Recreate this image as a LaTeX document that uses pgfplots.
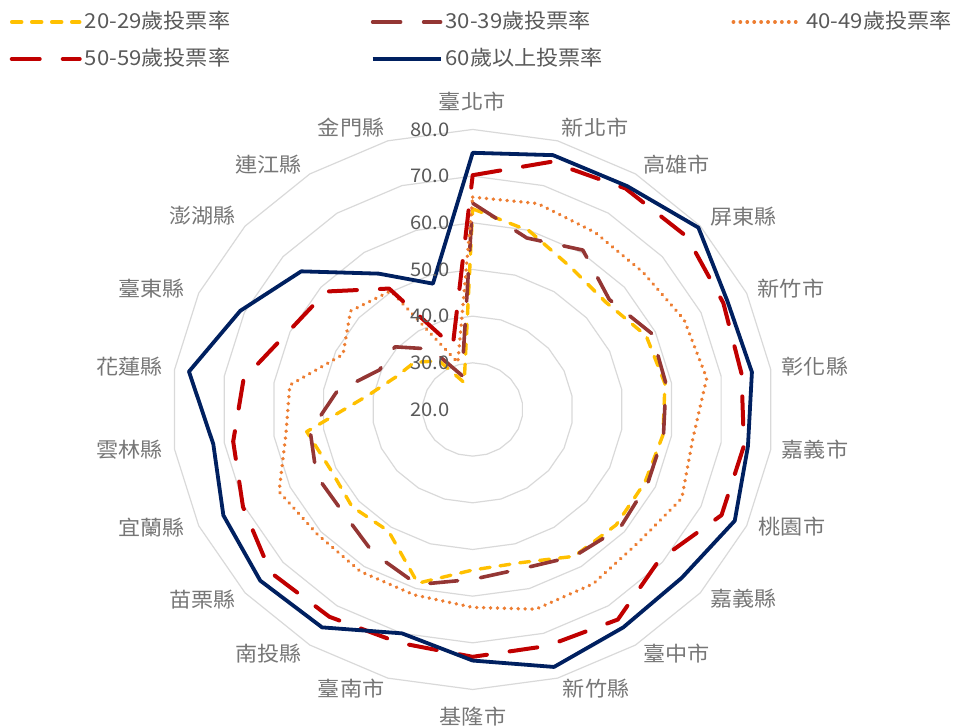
\documentclass[border=0pt]{standalone}
\usepackage{fontspec}
\setmainfont{Noto Sans CJK TC}[FakeStretch=1.075]
\usepackage{pgfplots}
\usepackage{pgfplotstable}
\pgfplotsset{compat=1.18}
\definecolor{c20}{HTML}{FFC000}
\definecolor{c30}{HTML}{943634}
\definecolor{c40}{HTML}{ED7D31}
\definecolor{c50}{HTML}{C00000}
\definecolor{c60}{HTML}{002060}
\definecolor{gridc}{HTML}{D9D9D9}
\definecolor{txt}{HTML}{595959}
\definecolor{cat}{HTML}{767676}

% k = category index (clockwise from top), v = turnout (%)
\pgfplotstableread{
k v
0 63.0
1 59.9
2 56.2
3 55.1
4 58.0
5 58.7
6 58.3
7 57.7
8 57.8
9 57.4
10 54.2
11 54.4
12 58.8
13 51.0
14 51.8
15 51.1
16 53.4
17 41.1
18 36.8
19 35.4
20 32.4
21 26.0
}\tA
\pgfplotstableread{
k v
0 64.2
1 58.3
2 60.6
3 56.0
4 59.2
5 58.9
6 58.4
7 58.3
8 58.8
9 57.4
10 55.5
11 56.4
12 59.1
13 56.6
14 54.0
15 54.2
16 52.7
17 47.3
18 40.4
19 40.5
20 35.4
21 27.6
}\tB
\pgfplotstableread{
k v
0 65.5
1 66.0
2 65.1
3 64.9
4 66.3
5 67.1
6 64.3
7 65.8
8 63.6
9 64.4
10 64.6
11 62.4
12 61.4
13 61.3
14 60.9
15 62.4
16 57.6
17 56.8
18 48.4
19 52.2
20 50.2
21 30.5
}\tC
\pgfplotstableread{
k v
0 70.2
1 75.3
2 76.3
3 76.5
4 74.9
5 74.1
6 74.6
7 74.5
8 69.2
9 73.5
10 72.8
11 73.0
12 72.1
13 72.8
14 73.3
15 70.3
16 68.2
17 66.1
18 60.3
19 58.6
20 50.8
21 34.1
}\tD
\pgfplotstableread{
k v
0 75.0
1 76.8
2 76.9
3 79.5
4 75.8
5 76.2
6 75.4
7 77.4
8 75.1
9 75.5
10 77.5
11 73.8
12 70.0
13 75.5
14 76.0
15 74.6
16 72.2
17 77.1
18 70.9
19 65.2
20 54.6
21 48.1
}\tE

\newcommand\catf{\fontsize{10.3bp}{12bp}\selectfont}
\newcommand\tickf{\fontsize{9.4bp}{11bp}\selectfont}

\begin{document}
\begin{tikzpicture}
\begin{axis}[
  x=2.51bp, y=2.3335bp,
  xmin=-94.16, xmax=96.08, ymin=-68.25, ymax=87.74,
  hide axis, clip=false,
  radar/.style={line join=round},
  legend columns=3,
  legend image code/.code={\draw[#1] (0bp,0bp) -- (34bp,0bp);},
  legend style={at={(axis cs:-92.3,86.0)}, anchor=north west,
    draw=none, fill=none, inner sep=0pt, row sep=5bp,
    font=\catf, text=txt,
    nodes={inner sep=1.5bp, text height=8.5bp, text depth=2bp}},
  legend cell align=left,
]
\pgfplotsinvokeforeach{30,40,50,60,70,80}{
  \addplot[gridc, line width=0.6bp, forget plot]
    table[x expr={(#1-20)*cos(90-\thisrow{k}*360/22)},
          y expr={(#1-20)*sin(90-\thisrow{k}*360/22)}] {\tA} -- cycle;
}
\addplot[radar, c20, line width=1.7bp, line cap=round, dash pattern=on 5bp off 5bp]
  table[x expr={(\thisrow{v}-20)*cos(90-\thisrow{k}*360/22)},
        y expr={(\thisrow{v}-20)*sin(90-\thisrow{k}*360/22)}] {\tA} -- cycle;
\addlegendentry{\makebox[141.5bp][l]{20-29歲投票率}}
\addplot[radar, c30, line width=1.8bp, line cap=round, dash pattern=on 14bp off 11.5bp]
  table[x expr={(\thisrow{v}-20)*cos(90-\thisrow{k}*360/22)},
        y expr={(\thisrow{v}-20)*sin(90-\thisrow{k}*360/22)}] {\tB} -- cycle;
\addlegendentry{\makebox[141.5bp][l]{30-39歲投票率}}
\addplot[radar, c40, line width=1.9bp, line cap=round, dash pattern=on 0.01bp off 3.45bp]
  table[x expr={(\thisrow{v}-20)*cos(90-\thisrow{k}*360/22)},
        y expr={(\thisrow{v}-20)*sin(90-\thisrow{k}*360/22)}] {\tC} -- cycle;
\addlegendentry{40-49歲投票率}
\addplot[radar, c50, line width=2.0bp, line cap=round, dash pattern=on 14bp off 11.5bp]
  table[x expr={(\thisrow{v}-20)*cos(90-\thisrow{k}*360/22)},
        y expr={(\thisrow{v}-20)*sin(90-\thisrow{k}*360/22)}] {\tD} -- cycle;
\addlegendentry{\makebox[141.5bp][l]{50-59歲投票率}}
\addplot[radar, c60, line width=1.9bp]
  table[x expr={(\thisrow{v}-20)*cos(90-\thisrow{k}*360/22)},
        y expr={(\thisrow{v}-20)*sin(90-\thisrow{k}*360/22)}] {\tE} -- cycle;
\addlegendentry{\makebox[141.5bp][l]{60歲以上投票率}}

% radial value labels
\node[anchor=east, inner sep=0pt, font=\tickf, text=txt] at (axis cs:-4.5,0) {20.0};
\node[anchor=east, inner sep=0pt, font=\tickf, text=txt] at (axis cs:-4.5,10) {30.0};
\node[anchor=east, inner sep=0pt, font=\tickf, text=txt] at (axis cs:-4.5,20) {40.0};
\node[anchor=east, inner sep=0pt, font=\tickf, text=txt] at (axis cs:-4.5,30) {50.0};
\node[anchor=east, inner sep=0pt, font=\tickf, text=txt] at (axis cs:-4.5,40) {60.0};
\node[anchor=east, inner sep=0pt, font=\tickf, text=txt] at (axis cs:-4.5,50) {70.0};
\node[anchor=east, inner sep=0pt, font=\tickf, text=txt] at (axis cs:-4.5,60) {80.0};

% category labels
\tikzset{catl/.style={inner sep=0pt, font=\catf, text=cat}}
\node[catl] at (axis cs:-0.1,65.9) {臺北市};
\node[catl] at (axis cs:24.4,60.3) {新北市};
\node[catl] at (axis cs:40.6,52.5) {高雄市};
\node[catl] at (axis cs:54.0,41.3) {屏東縣};
\node[catl] at (axis cs:63.4,25.8) {新竹市};
\node[catl] at (axis cs:68.2,9.1) {彰化縣};
\node[catl] at (axis cs:68.2,-8.7) {嘉義市};
\node[catl] at (axis cs:63.6,-25.2) {桃園市};
\node[catl] at (axis cs:54.0,-40.6) {嘉義縣};
\node[catl] at (axis cs:40.6,-52.4) {臺中市};
\node[catl] at (axis cs:24.6,-59.8) {新竹縣};
\node[catl] at (axis cs:0.06,-65.7) {基隆市};
\node[catl] at (axis cs:-24.2,-59.8) {臺南市};
\node[catl] at (axis cs:-40.6,-52.4) {南投縣};
\node[catl] at (axis cs:-53.8,-40.8) {苗栗縣};
\node[catl] at (axis cs:-63.9,-25.2) {宜蘭縣};
\node[catl] at (axis cs:-68.3,-8.7) {雲林縣};
\node[catl] at (axis cs:-68.3,9.1) {花蓮縣};
\node[catl] at (axis cs:-63.9,26.0) {臺東縣};
\node[catl] at (axis cs:-53.8,41.5) {澎湖縣};
\node[catl] at (axis cs:-40.6,52.5) {連江縣};
\node[catl] at (axis cs:-24.2,60.3) {金門縣};

\path (rel axis cs:0,0) rectangle (rel axis cs:1,1);
\end{axis}
\end{tikzpicture}
\end{document}
